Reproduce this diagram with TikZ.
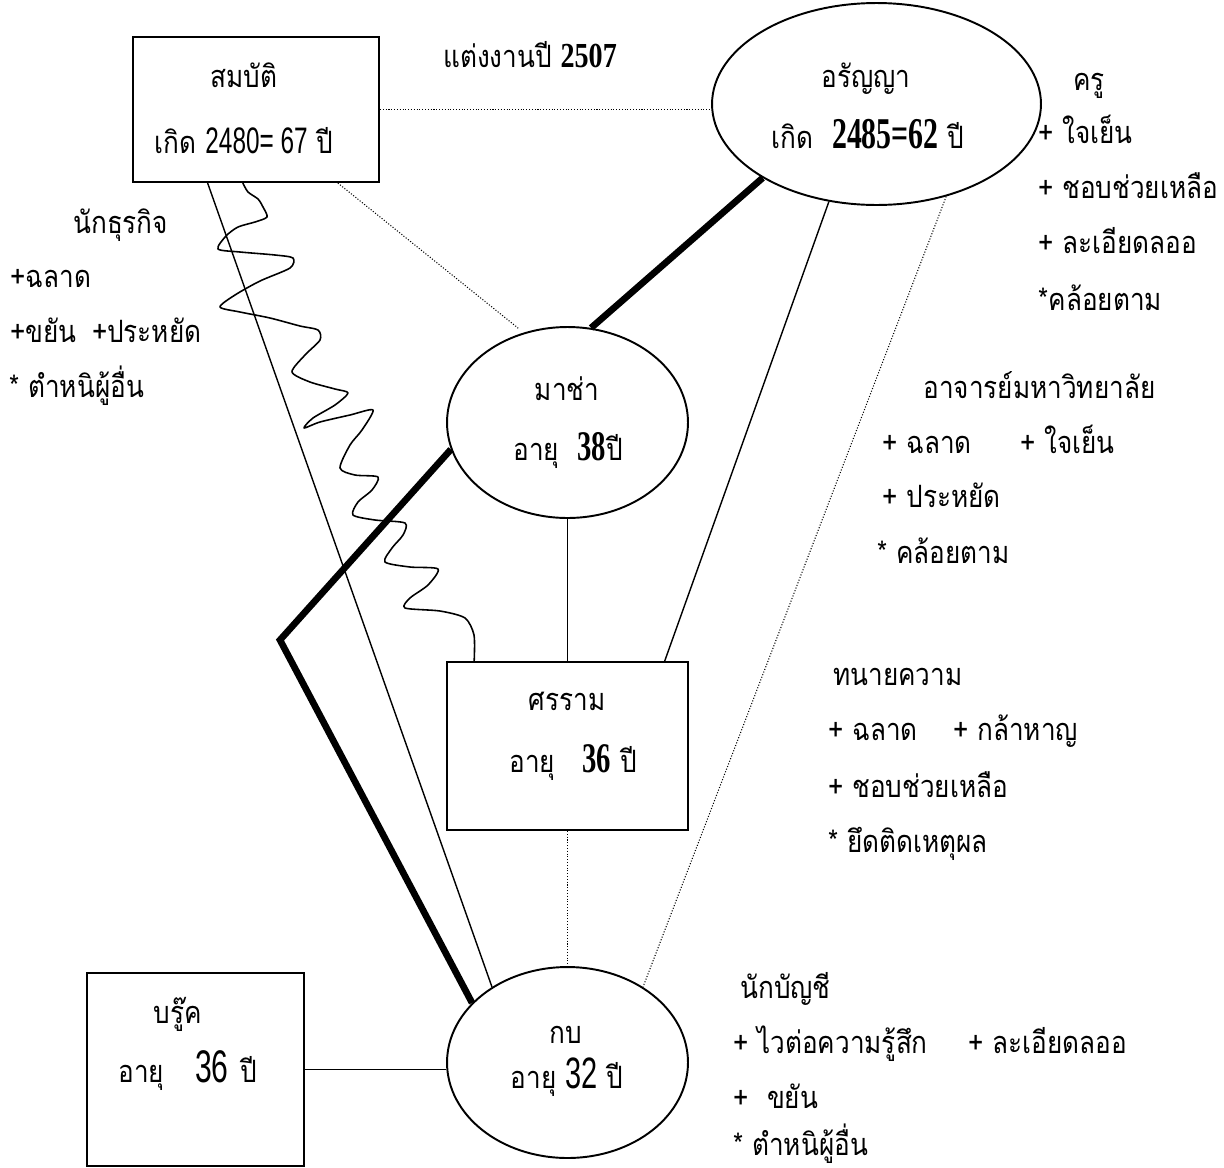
\documentclass[tikz,border=0pt]{standalone}
\usepackage{fontspec}
\usetikzlibrary{shapes.geometric,calc}
\newfontfamily\thai[Script=Thai,FakeStretch=0.85]{Loma}
\newfontfamily\numr[FakeStretch=0.66]{Liberation Sans}
\newfontfamily\numb[FakeStretch=0.68]{Liberation Serif Bold}
\newfontfamily\numbw[FakeStretch=0.8]{Liberation Serif Bold}
\newcommand\tsz{\thai\fontsize{17.5}{20}\selectfont}
\begin{document}
\begin{tikzpicture}[x=0.02cm,y=-0.02cm,
  boxn/.style={draw, line width=1.2pt, rectangle, inner sep=0},
  elln/.style={draw, line width=1.1pt, ellipse, inner sep=0},
  thinl/.style={line width=0.8pt},
  thickl/.style={line width=3.8pt, line join=miter},
  dotl/.style={line width=0.6pt, dash pattern=on 0.6pt off 1pt},
  wavl/.style={line width=0.9pt, line join=round},
  tb/.style={inner sep=0, anchor=base, font=\tsz},
  tw/.style={inner sep=0, anchor=base west, font=\tsz}]
\useasboundingbox (0,0) rectangle (1224,1167);
\fill[white] (0,0) rectangle (1224,1167);

% shapes
\node[boxn, minimum width=4.92cm, minimum height=2.9cm] (smb) at (256,109.5) {};
\node[elln, minimum width=6.58cm, minimum height=4.04cm] (arj) at (876.5,104) {};
\node[elln, minimum width=4.82cm, minimum height=3.82cm] (masha) at (567.5,422.5) {};
\node[boxn, minimum width=4.82cm, minimum height=3.36cm] (srm) at (567.5,746) {};
\node[elln, minimum width=4.82cm, minimum height=3.82cm] (kob) at (567.5,1062.5) {};
\node[boxn, minimum width=4.34cm, minimum height=3.86cm] (brk) at (195.5,1069.5) {};

% connectors
\draw[dotl] (smb.east) -- (smb.east -| arj.west);
\draw[dotl, shorten >=4pt] ($(smb.south west)!0.83!(smb.south east)$) -- (masha.116);
\draw[thickl] (arj.213) -- (masha.76);
\draw[thinl] (arj.244) -- ($(srm.north west)!0.9!(srm.north east)$);
\draw[dotl] (arj.307) -- (kob.45);
\draw[thinl] (masha.south) -- (srm.north);
\draw[dotl] (srm.south) -- (kob.north);
\draw[thinl] ($(smb.south west)!0.305!(smb.south east)$) -- (kob.135);
\coordinate (corner) at (280,640);
\draw[thickl] (masha.193) -- (corner) -- (kob.148);
\draw[thinl] (brk.east) -- (brk.east -| kob.west);
\coordinate (w1) at ($(smb.south west)!0.447!(smb.south east)$);
\coordinate (w2) at ($(srm.north west)!0.116!(srm.north east)$);
\draw[wavl] plot[smooth, tension=0.45] coordinates {(w1) (248,192) (258,199) (263,207) (267,217) (255,222) (238,227) (226,236) (218,249) (240,252) (275,255) (293,258) (290,268) (260,281) (235,295) (220,307) (240,312) (270,318) (300,326) (318,330) (320,340) (305,355) (292,372) (310,382) (335,389) (348,393) (335,405) (313,418) (304,428) (320,422) (350,415) (373,410) (362,430) (350,445) (340,468) (355,475) (378,477) (372,490) (358,502) (353,515) (375,520) (405,523) (403,535) (392,548) (385,562) (410,567) (438,569) (428,585) (410,598) (405,608) (440,611) (465,618) (474,635) (w2)};

% labels inside shapes
\node[tb] (smb-a) at (244,87) {สมบัติ};
\node[tb] (smb-b) at (244,153) {เกิด {\numr\fontsize{21}{24}\selectfont 2480= 67} ปี};
\node[tb] (arj-a) at (866,87) {อรัญญา};
\node[tb] (arj-b) at (868,148) {เกิด\hspace{0.6em}{\numb\fontsize{25}{28}\selectfont 2485=62} ปี};
\node[tb] (masha-a) at (567,400) {มาช่า};
\node[tb] (masha-b) at (568,460) {อายุ\hspace{0.6em}{\numb\fontsize{24}{26}\selectfont 38}ปี};
\node[tb] (srm-a) at (567,710) {ศรราม};
\node[tb] (srm-b) at (573,772) {อายุ\hspace{0.9em}{\numb\fontsize{24}{26}\selectfont 36} ปี};
\node[tb] (kob-a) at (566,1043) {กบ};
\node[tb] (kob-b) at (567,1088) {อายุ {\numr\fontsize{25}{28}\selectfont 32} ปี};
\node[tb] (brk-a) at (178,1023) {บรู๊ค};
\node[tb] (brk-b) at (188,1082) {อายุ\hspace{1em}{\numr\fontsize{26}{28}\selectfont 36}\hspace{0.4em}ปี};

% marriage
\node[tw] (wed) at (443,67) {แต่งงานปี {\numbw\fontsize{20}{22}\selectfont 2507}};

% traits: teacher
\node[tw] (t0) at (1073,90) {ครู};
\node[tw] (t1) at (1038,143) {+ ใจเย็น};
\node[tw] (t2) at (1038,198) {+ ชอบช่วยเหลือ};
\node[tw] (t3) at (1038,253) {+ ละเอียดลออ};
\node[tw] (t4) at (1038,310) {*คล้อยตาม};

% businessman
\node[tw] (b0) at (73,233) {นักธุรกิจ};
\node[tw] (b1) at (10,287) {+ฉลาด};
\node[tw] (b2) at (10,342) {+ขยัน\hspace{0.5em}+ประหยัด};
\node[tw] (b3) at (9,397) {* ตำหนิผู้อื่น};

% lecturer
\node[tw] (u0) at (923,398) {อาจารย์มหาวิทยาลัย};
\node[tw] (u1) at (882,453) {+ ฉลาด};
\node[tw] (u1b) at (1020,453) {+ ใจเย็น};
\node[tw] (u2) at (882,507) {+ ประหยัด};
\node[tw] (u3) at (877,563) {* คล้อยตาม};

% lawyer
\node[tw] (l0) at (833,685) {ทนายความ};
\node[tw] (l1) at (828,740) {+ ฉลาด};
\node[tw] (l1b) at (953,740) {+ กล้าหาญ};
\node[tw] (l2) at (828,797) {+ ชอบช่วยเหลือ};
\node[tw] (l3) at (828,852) {* ยึดติดเหตุผล};

% accountant
\node[tw] (a0) at (740,998) {นักบัญชี};
\node[tw] (a1) at (733,1053) {+ ไวต่อความรู้สึก};
\node[tw] (a1b) at (968,1053) {+ ละเอียดลออ};
\node[tw] (a2) at (733,1108) {+\hspace{0.6em}ขยัน};
\node[tw] (a3) at (733,1155) {* ตำหนิผู้อื่น};
\end{tikzpicture}
\end{document}
